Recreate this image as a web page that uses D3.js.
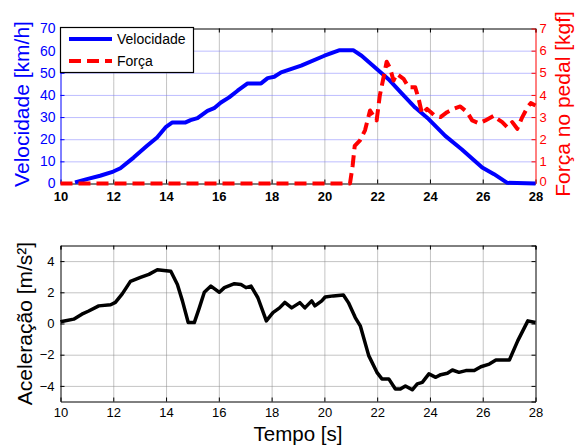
<!DOCTYPE html>
<html>
<head>
<meta charset="utf-8">
<script src="https://cdn.jsdelivr.net/npm/d3@7"></script>
<style>
  body { margin: 0; background: #fff; }
  svg { font-family: "Liberation Sans", Arial, sans-serif; }
  .grid line { stroke-dasharray: 1,1; }
  .grid path { display: none; }
</style>
</head>
<body>
<div id="chart"></div>
<script>
// time ticks shared by both panels
var timeTicks = [10, 12, 14, 16, 18, 20, 22, 24, 26, 28];
var velTicks = [0, 10, 20, 30, 40, 50, 60, 70];
var forceTicks = [0, 1, 2, 3, 4, 5, 6, 7];
var accTicks = [-4, -2, 0, 2, 4];

// [tempo (s), velocidade (km/h)]
var velData = [
  [10.55, 0.5], [11.0, 2.0], [11.5, 3.5], [12.0, 5.4], [12.27, 6.9], [12.77, 11.7],
  [13.28, 17], [13.66, 20.8], [14.0, 25.6], [14.24, 27.6], [14.74, 27.6], [14.93, 28.6],
  [15.19, 29.5], [15.57, 32.8], [15.82, 34], [16.08, 36.6], [16.39, 38.9], [16.71, 41.9],
  [17.09, 45.2], [17.6, 45.2], [17.85, 47.6], [18.1, 48.2], [18.36, 50.2], [19.12, 53.2],
  [20.0, 57.7], [20.58, 60.2], [21.09, 60.2], [21.41, 57.7], [21.92, 52.4], [22.43, 47.1],
  [22.93, 40.7], [23.44, 34.3], [23.95, 29.1], [24.58, 21.5], [25.2, 15.5], [25.98, 7.2],
  [26.43, 4.2], [26.93, 0.3], [28, 0]
];

// [tempo (s), força no pedal (kgf)]
var forceData = [
  [10, 0], [20.97, 0], [21.07, 0.8], [21.15, 1.7], [21.35, 1.95], [21.54, 2.4],
  [21.73, 3.3], [21.86, 3.05], [21.98, 2.85], [22.1, 3.97], [22.26, 4.9], [22.36, 5.5],
  [22.49, 5.2], [22.62, 4.65], [22.74, 4.95], [23.0, 4.73], [23.19, 4.35], [23.44, 4.35],
  [23.57, 3.83], [23.7, 3.15], [23.89, 3.37], [24.17, 3.07], [24.4, 3.0], [24.65, 3.22],
  [24.9, 3.37], [25.15, 3.48], [25.41, 3.22], [25.6, 2.85], [25.86, 2.72], [26.1, 2.85],
  [26.43, 3.07], [26.55, 2.92], [26.74, 2.77], [26.93, 2.54], [27.12, 2.77], [27.31, 2.47],
  [27.5, 3.0], [27.7, 3.45], [27.82, 3.63], [28, 3.52]
];

// [tempo (s), aceleração (m/s2)]
var accData = [
  [10.0, 0.1], [10.05, 0.13], [10.5, 0.28], [10.81, 0.6], [11.07, 0.8], [11.45, 1.13],
  [11.9, 1.2], [12.08, 1.35], [12.34, 1.9], [12.65, 2.7], [13.03, 2.95], [13.35, 3.15],
  [13.67, 3.45], [13.92, 3.4], [14.18, 3.35], [14.43, 2.5], [14.62, 1.45], [14.84, 0.06],
  [15.07, 0.06], [15.26, 1.0], [15.45, 2.0], [15.7, 2.4], [16.02, 2.0], [16.21, 2.3],
  [16.59, 2.55], [16.84, 2.5], [17.03, 2.3], [17.22, 2.4], [17.48, 1.65], [17.8, 0.17],
  [18.05, 0.7], [18.3, 1.0], [18.5, 1.35], [18.76, 1.0], [19.07, 1.34], [19.26, 1.0],
  [19.52, 1.45], [19.64, 1.13], [19.9, 1.45], [20.03, 1.7], [20.34, 1.77], [20.72, 1.83],
  [20.91, 1.34], [21.17, 0.38], [21.36, -0.15], [21.68, -2.06], [21.99, -3.13], [22.18, -3.55],
  [22.44, -3.55], [22.69, -4.2], [22.88, -4.2], [23.07, -4.0], [23.33, -4.25], [23.52, -3.87],
  [23.71, -3.77], [23.96, -3.23], [24.22, -3.45], [24.41, -3.28], [24.66, -3.19], [24.85, -2.98],
  [25.1, -3.13], [25.36, -3.02], [25.68, -3.02], [25.93, -2.77], [26.25, -2.6], [26.5, -2.34],
  [26.76, -2.34], [27.01, -2.34], [27.33, -1.1], [27.71, 0.17], [28.0, 0.06]
];

var svgWidth = 580;
var svgHeight = 447;

var svg = d3.select("#chart")
  .append("svg")
  .attr("width", svgWidth)
  .attr("height", svgHeight);

var left = 60.5, right = 535.5;
var top1 = 28.5, bottom1 = 183.5;
var top2 = 245.5, bottom2 = 401.5;
var intFmt = d3.format("d");

var xScale = d3.scaleLinear().domain([10, 28]).range([left, right]);
var velScale = d3.scaleLinear().domain([0, 70]).range([bottom1, top1]);
var forceScale = d3.scaleLinear().domain([0, 7]).range([bottom1, top1]);
var accScale = d3.scaleLinear().domain([-5, 5]).range([bottom2, top2]);

// ---------- top panel ----------
// vertical grid (gray)
svg.append("g")
  .attr("class", "grid")
  .attr("transform", `translate(0, ${bottom1})`)
  .call(d3.axisBottom(xScale).tickValues(timeTicks.slice(1, -1)).tickSize(-(bottom1 - top1)).tickFormat(""))
  .selectAll("line").attr("stroke", "#888");

// horizontal grid (blue)
svg.append("g")
  .attr("class", "grid")
  .attr("transform", `translate(${left}, 0)`)
  .call(d3.axisLeft(velScale).tickValues(velTicks.slice(1, -1)).tickSize(-(right - left)).tickFormat(""))
  .selectAll("line").attr("stroke", "#7b7bff");

// top border
svg.append("g")
  .attr("transform", `translate(0, ${top1})`)
  .call(d3.axisTop(xScale).tickValues(timeTicks).tickSize(-4).tickFormat(""))
  .call(g => g.selectAll("path, line").attr("stroke", "#000"));

// bottom axis
svg.append("g")
  .attr("transform", `translate(0, ${bottom1})`)
  .call(d3.axisBottom(xScale).tickValues(timeTicks).tickSize(-4).tickSizeOuter(0).tickPadding(8).tickFormat(intFmt))
  .call(g => g.selectAll("path, line").attr("stroke", "#000"))
  .call(g => g.selectAll("text").attr("font-size", 13).attr("font-weight", "bold")
    .attr("fill", "#000").attr("font-family", "Liberation Sans, Arial, sans-serif"));

// left axis (blue)
svg.append("g")
  .attr("transform", `translate(${left}, 0)`)
  .call(d3.axisLeft(velScale).tickValues(velTicks).tickSize(-4).tickSizeOuter(0).tickPadding(5).tickFormat(intFmt))
  .call(g => g.selectAll("path, line").attr("stroke", "#0000ff"))
  .call(g => g.selectAll("text").attr("font-size", 14).attr("fill", "#0000ff")
    .attr("font-family", "Liberation Sans, Arial, sans-serif"));

// right axis (red)
svg.append("g")
  .attr("transform", `translate(${right}, 0)`)
  .call(d3.axisRight(forceScale).tickValues(forceTicks).tickSize(-4).tickSizeOuter(0).tickPadding(4).tickFormat(intFmt))
  .call(g => g.selectAll("path, line").attr("stroke", "#ff0000"))
  .call(g => g.selectAll("text").attr("font-size", 13).attr("fill", "#ff0000")
    .attr("font-family", "Liberation Sans, Arial, sans-serif"))
  .call(g => g.selectAll("text").filter(d => d === 0).attr("y", -2));

var velLine = d3.line()
  .x(d => xScale(d[0]))
  .y(d => velScale(d[1]));

var forceLine = d3.line()
  .x(d => xScale(d[0]))
  .y(d => forceScale(d[1]));

svg.append("path")
  .datum(velData)
  .attr("d", velLine)
  .attr("fill", "none")
  .attr("stroke", "#0000ff")
  .attr("stroke-width", 4)
  .attr("stroke-linejoin", "round");

svg.append("path")
  .datum(forceData)
  .attr("d", forceLine)
  .attr("fill", "none")
  .attr("stroke", "#ff0000")
  .attr("stroke-width", 4)
  .attr("stroke-dasharray", "12,6")
  .attr("stroke-linejoin", "round");

// legend
var legend = svg.append("g");
legend.append("rect")
  .attr("x", left).attr("y", top1 - 1)
  .attr("width", 133).attr("height", 45)
  .attr("fill", "#fff").attr("stroke", "#000").attr("stroke-width", 1.2);
legend.append("line")
  .attr("x1", 69).attr("x2", 112).attr("y1", 39).attr("y2", 39)
  .attr("stroke", "#0000ff").attr("stroke-width", 4);
legend.append("line")
  .attr("x1", 69).attr("x2", 112).attr("y1", 61).attr("y2", 61)
  .attr("stroke", "#ff0000").attr("stroke-width", 4).attr("stroke-dasharray", "12,6");
legend.append("text").attr("x", 117).attr("y", 44).attr("font-size", 14).text("Velocidade");
legend.append("text").attr("x", 117).attr("y", 66).attr("font-size", 14).text("Força");

// axis labels
svg.append("text")
  .attr("transform", `translate(29, ${(top1 + bottom1) / 2 - 2}) rotate(-90)`)
  .attr("text-anchor", "middle")
  .attr("font-size", 21)
  .attr("fill", "#0000ff")
  .text("Velocidade [km/h]");

svg.append("text")
  .attr("transform", `translate(570, ${(top1 + bottom1) / 2 - 2}) rotate(-90)`)
  .attr("text-anchor", "middle")
  .attr("font-size", 21)
  .attr("fill", "#ff0000")
  .text("Força no pedal [kgf]");

// ---------- bottom panel ----------
svg.append("g")
  .attr("class", "grid")
  .attr("transform", `translate(0, ${bottom2})`)
  .call(d3.axisBottom(xScale).tickValues(timeTicks.slice(1, -1)).tickSize(-(bottom2 - top2)).tickFormat(""))
  .selectAll("line").attr("stroke", "#888");

svg.append("g")
  .attr("class", "grid")
  .attr("transform", `translate(${left}, 0)`)
  .call(d3.axisLeft(accScale).tickValues(accTicks).tickSize(-(right - left)).tickFormat(""))
  .selectAll("line").attr("stroke", "#888");

svg.append("g")
  .attr("transform", `translate(0, ${top2})`)
  .call(d3.axisTop(xScale).tickValues(timeTicks).tickSize(-4).tickFormat(""))
  .call(g => g.selectAll("path, line").attr("stroke", "#000"));

svg.append("g")
  .attr("transform", `translate(${right}, 0)`)
  .call(d3.axisRight(accScale).tickValues(accTicks).tickSize(-4).tickFormat(""))
  .call(g => g.selectAll("path, line").attr("stroke", "#000"));

svg.append("g")
  .attr("transform", `translate(0, ${bottom2})`)
  .call(d3.axisBottom(xScale).tickValues(timeTicks).tickSize(-4).tickSizeOuter(0).tickPadding(6).tickFormat(intFmt))
  .call(g => g.selectAll("path, line").attr("stroke", "#000"))
  .call(g => g.selectAll("text").attr("font-size", 13).attr("fill", "#000")
    .attr("font-family", "Liberation Sans, Arial, sans-serif"));

svg.append("g")
  .attr("transform", `translate(${left}, 0)`)
  .call(d3.axisLeft(accScale).tickValues(accTicks).tickSize(-4).tickSizeOuter(0).tickPadding(6).tickFormat(intFmt))
  .call(g => g.selectAll("path, line").attr("stroke", "#000"))
  .call(g => g.selectAll("text").attr("font-size", 13).attr("fill", "#000")
    .attr("font-family", "Liberation Sans, Arial, sans-serif"));

var accLine = d3.line()
  .x(d => xScale(d[0]))
  .y(d => accScale(d[1]));

svg.append("path")
  .datum(accData)
  .attr("d", accLine)
  .attr("fill", "none")
  .attr("stroke", "#000")
  .attr("stroke-width", 3.5)
  .attr("stroke-linejoin", "round");

svg.append("text")
  .attr("transform", `translate(32, ${(top2 + bottom2) / 2}) rotate(-90)`)
  .attr("text-anchor", "middle")
  .attr("font-size", 21)
  .attr("fill", "#000")
  .text("Aceleração [m/s²]");

svg.append("text")
  .attr("x", (left + right) / 2)
  .attr("y", 441)
  .attr("text-anchor", "middle")
  .attr("font-size", 20.5)
  .attr("fill", "#000")
  .text("Tempo [s]");
</script>
</body>
</html>
